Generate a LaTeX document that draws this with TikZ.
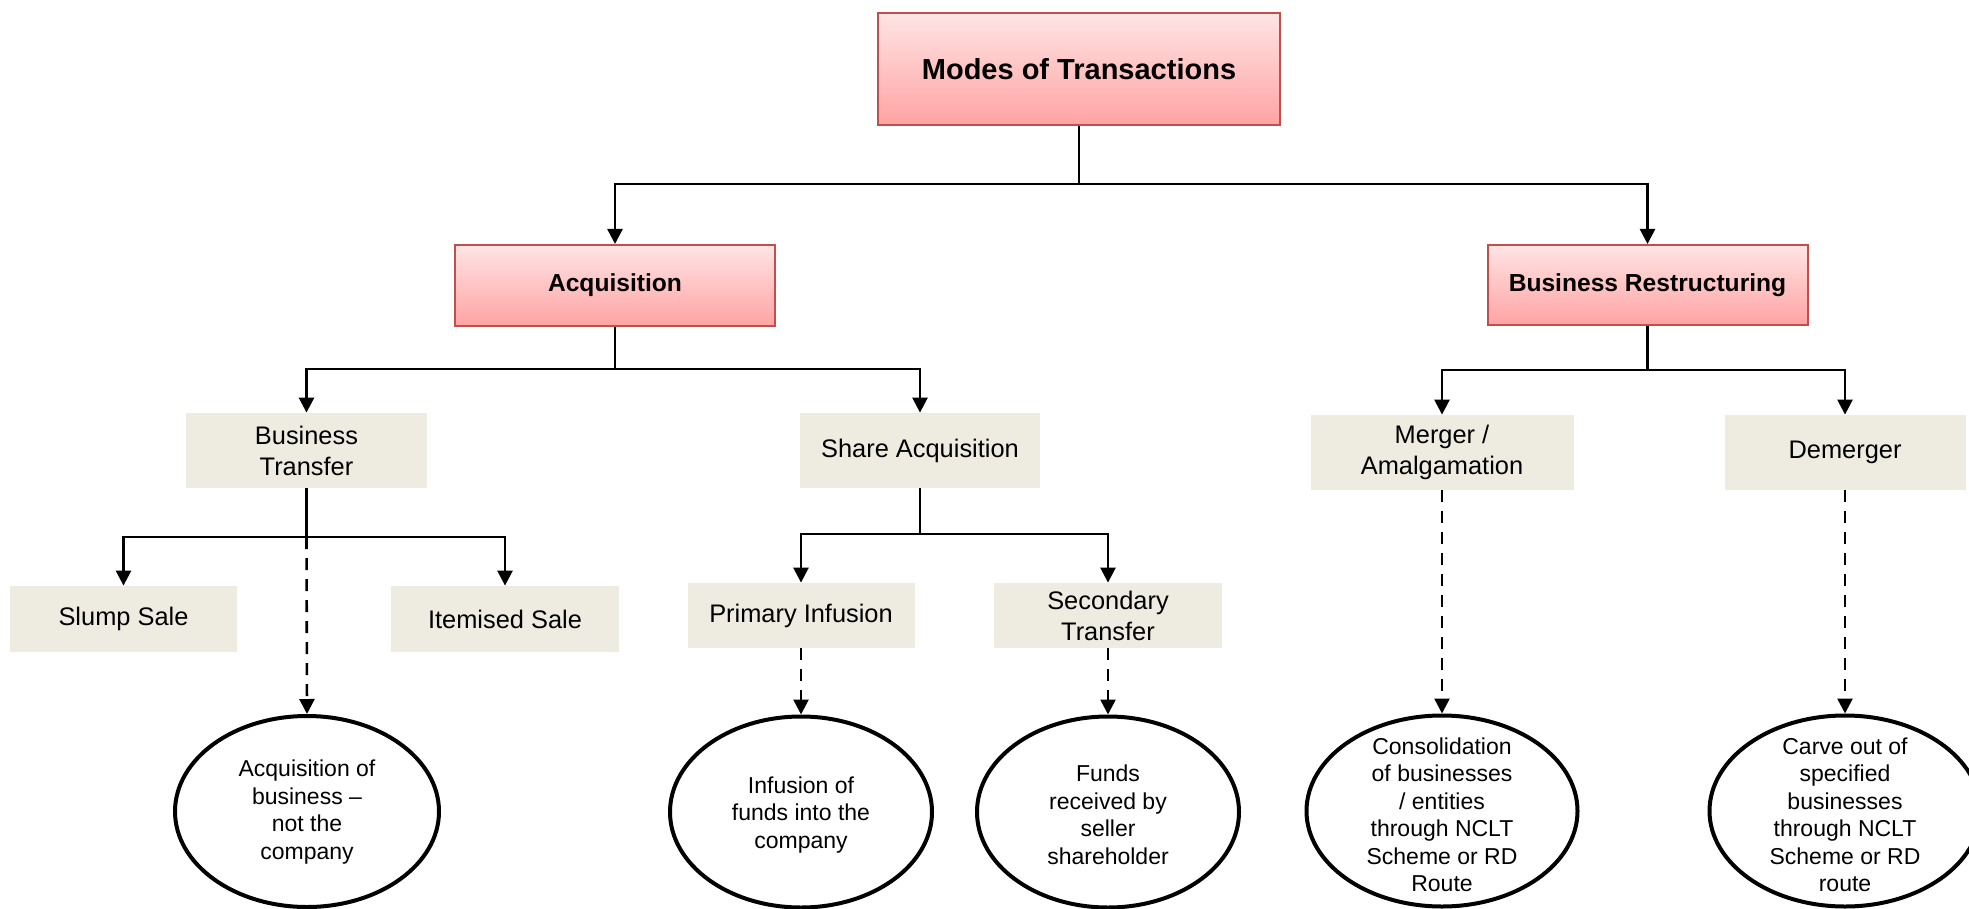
\documentclass[tikz,border=0pt]{standalone}
\usepackage{fontspec}
\setmainfont{Liberation Sans}
\usetikzlibrary{arrows.meta,shapes.geometric}

\definecolor{redtop}{RGB}{255,228,228}
\definecolor{redbot}{RGB}{255,163,163}
\definecolor{redline}{RGB}{192,80,77}
\definecolor{tanfill}{RGB}{238,236,225}

\begin{document}
\begin{tikzpicture}[x=0.5pt,y=-0.5pt,
  tip/.style={-{Triangle[length=7.5pt,width=7.5pt]}},
  plain/.style={line width=1.3pt},
  conn/.style={plain,tip},
  dashconn/.style={plain,dash pattern=on 6pt off 4.5pt,tip},
  redbox/.style={draw=redline,line width=1pt,top color=redtop,bottom color=redbot,
    inner sep=0pt,font=\bfseries\fontsize{12.3}{14.8}\selectfont},
  tanbox/.style={fill=tanfill,inner sep=0pt,align=center,
    font=\fontsize{12.7}{15.5}\selectfont},
  oval/.style={ellipse,draw,line width=2pt,inner sep=0pt,
    minimum width=132pt,minimum height=95.5pt},
  ovaltext/.style={align=center,inner sep=0pt,font=\fontsize{11.5}{13.75}\selectfont}
]
\useasboundingbox (0,0) rectangle (1969,909);
\clip (0,0) rectangle (1969,909);

% top level
\node[redbox,minimum width=201pt,minimum height=56pt,
  font=\bfseries\fontsize{14.5}{17}\selectfont] (modes) at (1079,69) {Modes of Transactions};

% second level
\node[redbox,minimum width=160pt,minimum height=40.5pt] (acq) at (615,285.5) {Acquisition};
\node[redbox,minimum width=160pt,minimum height=40pt] (restr) at (1647.5,285) {Business Restructuring};

% third level
\node[tanbox,minimum width=120.5pt,minimum height=37.5pt] (bt) at (306.5,450.5) {Business\\Transfer};
\node[tanbox,minimum width=120pt,minimum height=37.5pt] (share) at (920,450.5) {Share Acquisition};
\node[tanbox,minimum width=131.5pt,minimum height=37.5pt] (merger) at (1442,452.5) {Merger /\\Amalgamation};
\node[tanbox,minimum width=120.5pt,minimum height=37.5pt] (demerger) at (1845,452.5) {Demerger};

% fourth level
\node[tanbox,minimum width=113.5pt,minimum height=33pt] (slump) at (123.5,619) {Slump Sale};
\node[tanbox,minimum width=114pt,minimum height=33pt] (item) at (505,619) {Itemised Sale};
\node[tanbox,minimum width=113.5pt,minimum height=32.5pt] (prim) at (801,615.5) {Primary Infusion};
\node[tanbox,minimum width=114pt,minimum height=32.5pt] (sec) at (1108,615.5) {Secondary\\Transfer};

% outcome ovals
\node[oval] (e1) at (307,811.5) {};
\node[oval,minimum width=131pt] (e2) at (801,812) {};
\node[oval,minimum width=131pt] (e3) at (1108,812) {};
\node[oval,minimum width=135.5pt] (e4) at (1442,811) {};
\node[oval,minimum width=135.5pt] (e5) at (1845,811) {};

\node[ovaltext] (t1) at (307,812) {Acquisition of\\business --\\not the\\company};
\node[ovaltext] (t2) at (801,815) {Infusion of\\funds into the\\company};
\node[ovaltext] (t3) at (1108,815) {Funds\\received by\\seller\\shareholder};
\node[ovaltext] (t4) at (1442,815) {Consolidation\\of businesses\\/ entities\\through NCLT\\Scheme or RD\\Route};
\node[ovaltext] (t5) at (1845,815) {Carve out of\\specified\\businesses\\through NCLT\\Scheme or RD\\route};

% branch points
\coordinate (j0) at (1079,184);
\coordinate (jA) at (615,369);
\coordinate (jR) at (1647.5,370);
\coordinate (jB) at (306.5,537);
\coordinate (jS) at (920,534);

% connectors
\draw[plain] (modes.south) -- (j0);
\draw[conn] (j0) -| (acq.north);
\draw[conn] (j0) -| (restr.north);

\draw[plain] (acq.south) -- (jA);
\draw[conn] (jA) -| (bt.north);
\draw[conn] (jA) -| (share.north);

\draw[plain] (restr.south) -- (jR);
\draw[conn] (jR) -| (merger.north);
\draw[conn] (jR) -| (demerger.north);

\draw[plain] (bt.south) -- (jB);
\draw[conn] (jB) -| (slump.north);
\draw[conn] (jB) -| (item.north);
\draw[dashconn] (jB) -- (e1.north);

\draw[plain] (share.south) -- (jS);
\draw[conn] (jS) -| (prim.north);
\draw[conn] (jS) -| (sec.north);

\draw[dashconn] (prim.south) -- (e2.north);
\draw[dashconn] (sec.south) -- (e3.north);
\draw[dashconn] (merger.south) -- (e4.north);
\draw[dashconn] (demerger.south) -- (e5.north);
\end{tikzpicture}
\end{document}
